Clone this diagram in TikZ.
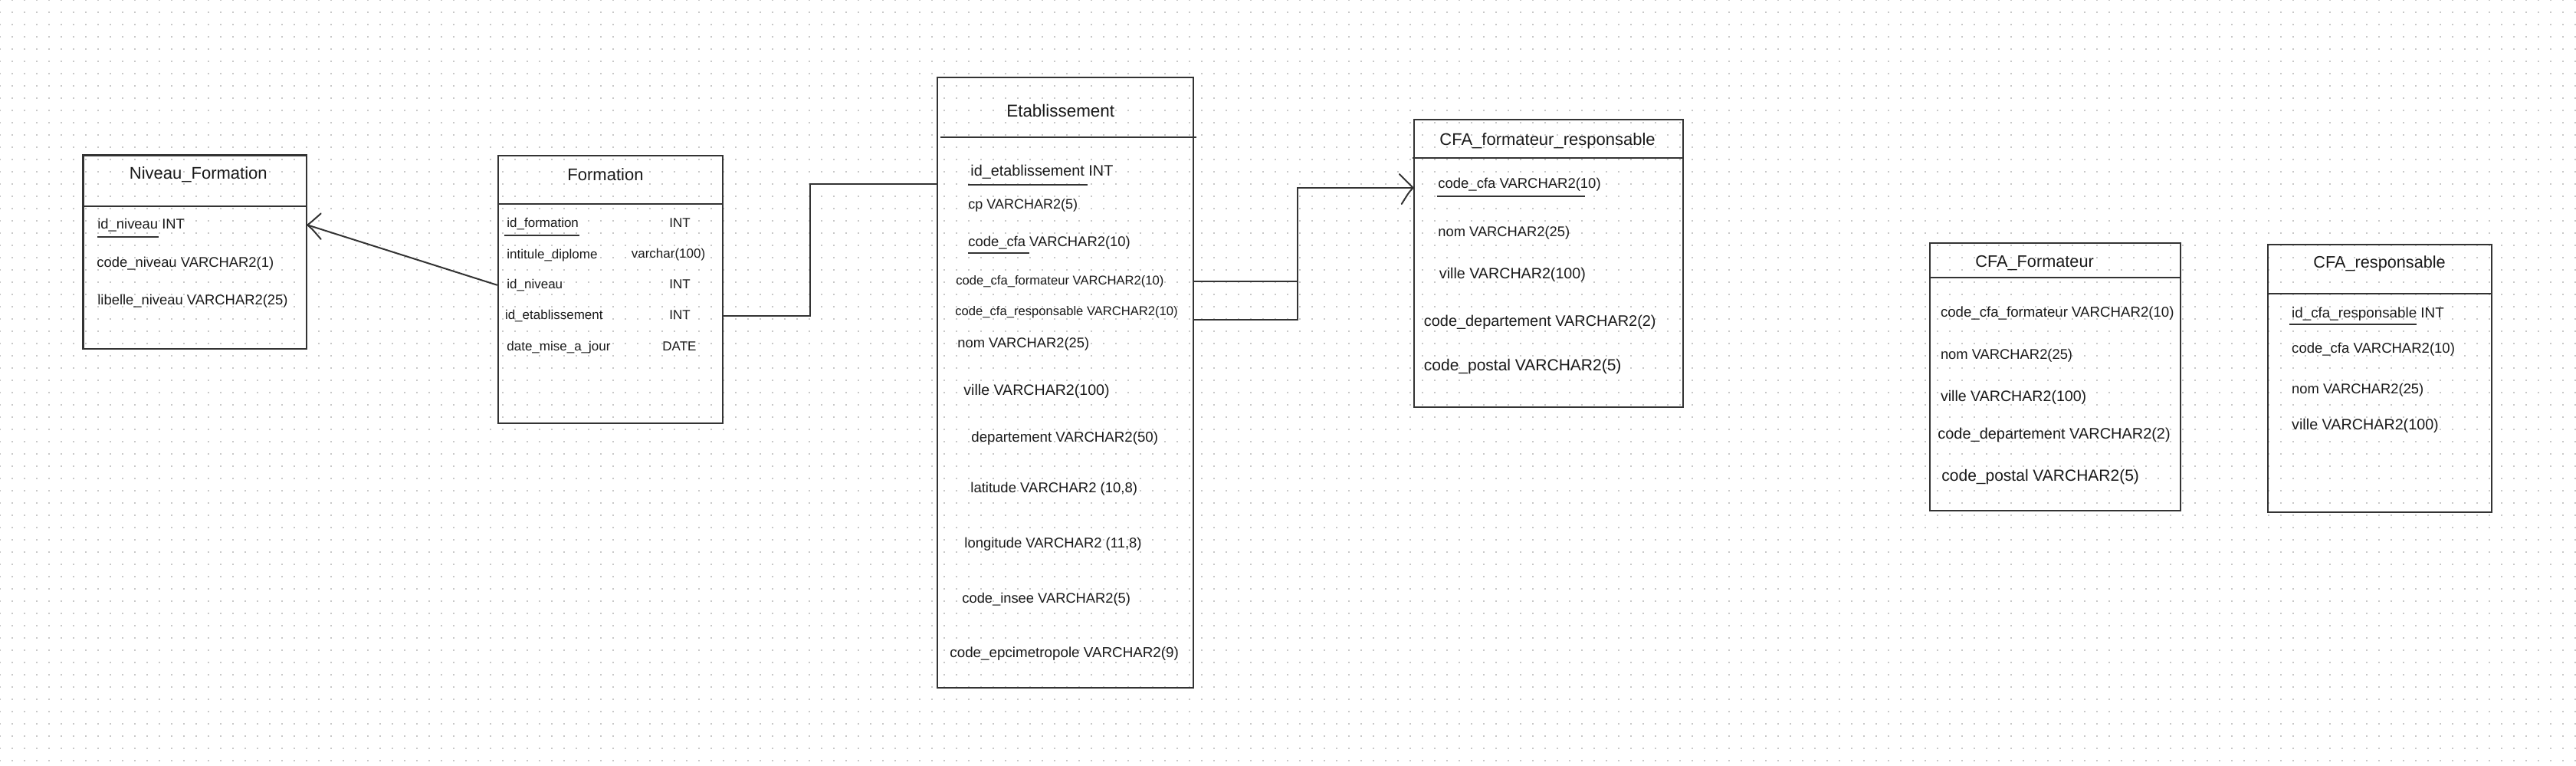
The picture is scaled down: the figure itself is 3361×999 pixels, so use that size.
\documentclass[tikz,border=0pt]{standalone}
\usepackage{fontspec}
\setmainfont{Liberation Sans}
\usetikzlibrary{fit}
\definecolor{lc}{HTML}{333333}
\definecolor{gridc}{HTML}{C8C8C8}
\definecolor{txt}{HTML}{1A1A1A}
\newcommand\fsz[1]{\fontsize{#1pt}{#1pt}\selectfont}
\begin{document}
\begin{tikzpicture}[x=0.5pt,y=-0.5pt,
  tbl/.style={draw=lc, line width=1.25pt, inner sep=0pt, rectangle},
  sepl/.style={draw=lc, line width=1pt},
  ttl/.style={anchor=center, inner sep=0pt, text=txt},
  row/.style={anchor=mid west, inner sep=0pt, text=txt},
  typ/.style={anchor=center, inner sep=0pt, text=txt},
  conn/.style={draw=lc, line width=1pt},
  barb/.style={draw=lc, line width=1pt, line cap=round, line join=round},
  ul/.style={draw=lc, line width=0.9pt}]
\fill[white] (0,0) rectangle (3361,999);
\useasboundingbox (0,0) rectangle (3361,999);
\foreach \j in {0,16,...,992}
  \draw[gridc, line width=1pt, dash pattern=on 1pt off 7pt] (-1,\j) -- (3362,\j);

% ---------------- Niveau_Formation
\node[tbl, fit={(108.7,202.7)(400,455)}] (niv) {};
\draw[sepl] (108.7,268.7) -- (400,268.7);
\node[ttl, font=\fsz{11}] (nivT) at (258.8,228) {Niveau\_Formation};
\node[row, font=\fsz{9.2}] (nR1) at (127,293) {id\_niveau INT};
\node[row, font=\fsz{9.2}] (nR2) at (126,343) {code\_niveau VARCHAR2(1)};
\node[row, font=\fsz{9.2}] (nR3) at (127,392) {libelle\_niveau VARCHAR2(25)};
\draw[ul] (127,309) -- (207.4,309);

% ---------------- Formation
\node[tbl, fit={(650,203)(942.8,552)}] (form) {};
\draw[sepl] (650,266) -- (942.8,266);
\node[ttl, font=\fsz{11}] (formT) at (790,228) {Formation};
\node[row, font=\fsz{8.5}] (fR1) at (661,291) {id\_formation};
\node[row, font=\fsz{8.5}] (fR2) at (661,332) {intitule\_diplome};
\node[row, font=\fsz{8.5}] (fR3) at (661,371) {id\_niveau};
\node[row, font=\fsz{8.5}] (fR4) at (658.6,411) {id\_etablissement};
\node[row, font=\fsz{8.5}] (fR5) at (661,452) {date\_mise\_a\_jour};
\node[typ, font=\fsz{8.5}] (fT1) at (887,291) {INT};
\node[typ, font=\fsz{8.5}] (fT2) at (872,332) {varchar(100)};
\node[typ, font=\fsz{8.5}] (fT3) at (887,371) {INT};
\node[typ, font=\fsz{8.5}] (fT4) at (887,411) {INT};
\node[typ, font=\fsz{8.5}] (fT5) at (886.5,452) {DATE};
\draw[ul] (657.5,307) -- (755.7,307);

% ---------------- Etablissement
\node[tbl, fit={(1223,101)(1557,897)}] (etab) {};
\draw[sepl] (1227,179) -- (1561,179);
\node[ttl, font=\fsz{11.2}] (etabT) at (1383.7,145) {Etablissement};
\node[row, font=\fsz{9.9}] (eR1) at (1266,224) {id\_etablissement INT};
\node[row, font=\fsz{9.0}] (eR2) at (1263,267) {cp VARCHAR2(5)};
\node[row, font=\fsz{9.2}] (eR3) at (1263,316) {code\_cfa VARCHAR2(10)};
\node[row, font=\fsz{8.3}] (eR4) at (1247,366) {code\_cfa\_formateur VARCHAR2(10)};
\node[row, font=\fsz{8.3}] (eR5) at (1246,406) {code\_cfa\_responsable VARCHAR2(10)};
\node[row, font=\fsz{9.16}] (eR6) at (1249,448) {nom VARCHAR2(25)};
\node[row, font=\fsz{9.8}] (eR7) at (1257,510) {ville VARCHAR2(100)};
\node[row, font=\fsz{9.34}] (eR8) at (1267,571) {departement VARCHAR2(50)};
\node[row, font=\fsz{9.25}] (eR9) at (1266,637) {latitude VARCHAR2 (10,8)};
\node[row, font=\fsz{9.23}] (eR10) at (1258,709) {longitude VARCHAR2 (11,8)};
\node[row, font=\fsz{9.16}] (eR11) at (1255,781) {code\_insee VARCHAR2(5)};
\node[row, font=\fsz{9.4}] (eR12) at (1239,852) {code\_epcimetropole VARCHAR2(9)};
\draw[ul] (1263,241) -- (1419,241);
\draw[ul] (1263,330) -- (1343,330);

% ---------------- CFA_formateur_responsable
\node[tbl, fit={(1845,156)(2196,531)}] (cfr) {};
\draw[sepl] (1843,206) -- (2196,206);
\node[ttl, font=\fsz{11}] (cfrT) at (2019,184) {CFA\_formateur\_responsable};
\node[row, font=\fsz{9.24}] (cR1) at (1876,240) {code\_cfa VARCHAR2(10)};
\node[row, font=\fsz{9.16}] (cR2) at (1876,303) {nom VARCHAR2(25)};
\node[row, font=\fsz{9.84}] (cR3) at (1877.5,358) {ville VARCHAR2(100)};
\node[row, font=\fsz{9.95}] (cR4) at (1857.5,420) {code\_departement VARCHAR2(2)};
\node[row, font=\fsz{10.5}] (cR5) at (1857.5,478) {code\_postal VARCHAR2(5)};
\draw[ul] (1874.6,256) -- (2067.5,256);

% ---------------- CFA_Formateur
\node[tbl, fit={(2518,317)(2845,666)}] (cfo) {};
\draw[sepl] (2518,362) -- (2845,362);
\node[ttl, font=\fsz{10.85}] (cfoT) at (2654.6,343) {CFA\_Formateur};
\node[row, font=\fsz{9.33}] (oR1) at (2531.6,408) {code\_cfa\_formateur VARCHAR2(10)};
\node[row, font=\fsz{9.18}] (oR2) at (2531.6,463) {nom VARCHAR2(25)};
\node[row, font=\fsz{9.8}] (oR3) at (2531.6,518) {ville VARCHAR2(100)};
\node[row, font=\fsz{9.97}] (oR4) at (2528,567) {code\_departement VARCHAR2(2)};
\node[row, font=\fsz{10.5}] (oR5) at (2533,622) {code\_postal VARCHAR2(5)};

% ---------------- CFA_responsable
\node[tbl, fit={(2959,319)(3251,668)}] (cre) {};
\draw[sepl] (2959,383) -- (3251,383);
\node[ttl, font=\fsz{10.84}] (creT) at (3104.6,344) {CFA\_responsable};
\node[row, font=\fsz{9.4}] (rR1) at (2989.8,409) {id\_cfa\_responsable INT};
\node[row, font=\fsz{9.26}] (rR2) at (2989.8,455) {code\_cfa VARCHAR2(10)};
\node[row, font=\fsz{9.18}] (rR3) at (2989.8,508) {nom VARCHAR2(25)};
\node[row, font=\fsz{9.87}] (rR4) at (2989.8,555) {ville VARCHAR2(100)};
\draw[ul] (2987,423) -- (3153,423);

% ---------------- connectors
% Formation.id_niveau -> Niveau_Formation
\coordinate (tA) at (niv.east |- nR1);
\draw[conn] (fR3 -| form.west) -- (tA);
\draw[barb] ([shift={(17.5,-15)}]tA) .. controls ([shift={(5,-4)}]tA) .. (tA)
            .. controls ([shift={(5,4)}]tA) .. ([shift={(17.5,18.5)}]tA);

% Formation.id_etablissement -> Etablissement
\coordinate (j1) at (1057,240);
\draw[conn] (fR4 -| form.east) -| (j1) -- (j1 -| etab.west);

% Etablissement -> CFA_formateur_responsable
\coordinate (j2) at (1693,245);
\coordinate (j3) at (1693,367);
\coordinate (j4) at (1693,417);
\coordinate (tB) at (cfr.west |- j2);
\draw[conn] (etab.east |- j3) -- (j3);
\draw[conn] (etab.east |- j4) -- (j4) -- (j2) -- (tB);
\draw[barb] ([shift={(-18,-18)}]tB) .. controls ([shift={(-5,-5)}]tB) .. (tB)
            .. controls ([shift={(-5,5)}]tB) .. ([shift={(-15,21)}]tB);
\end{tikzpicture}
\end{document}
